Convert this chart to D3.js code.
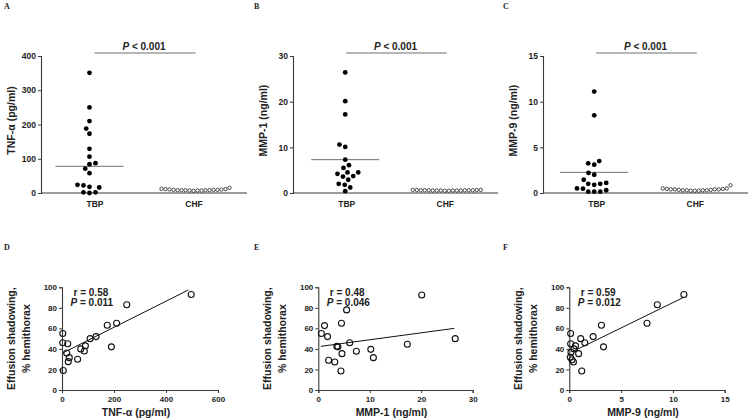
<!DOCTYPE html>
<html><head><meta charset="utf-8">
<script src="https://cdnjs.cloudflare.com/ajax/libs/d3/7.8.5/d3.min.js"></script>
<style>
html,body{margin:0;padding:0;background:#fff;}
svg{display:block;font-family:Arial,"Liberation Sans",sans-serif;}
</style></head>
<body>
<svg id="chart" width="750" height="418"></svg>
<script>
// ---------- DATA ----------
const groups = ["TBP", "CHF"];

const tnfTBP = [351,250,210,188,173,129,106,87,84,71,58,24,22,18,16,2,0,2];
const tnfCHF = [7,6,5,4,4,3,3,2,2,1,2,3,3,3,4,5,6,10];
const tnfLine = 78;

const mmp1TBP = [26.4,20.1,17.2,10.6,10.1,7.3,6.1,5.5,4.5,4.2,4.5,3.6,3.7,2.9,1.8,2.0,1.2,0.4];
const mmp1CHF = [0.3,0.25,0.2,0.2,0.2,0.15,0.15,0.15,0.1,0.1,0.15,0.15,0.15,0.2,0.2,0.2,0.25,0.3];
const mmp1Line = 7.3;

const mmp9TBP = [11.1,8.5,3.25,3.1,3.5,2.0,2.2,1.1,1.0,0.9,1.0,1.45,0.47,0.15,0.15,0.15,0.3,0.5];
const mmp9CHF = [0.3,0.25,0.2,0.2,0.15,0.1,0.1,0.05,0.05,0.05,0.1,0.1,0.15,0.2,0.2,0.25,0.3,0.65];
const mmp9Line = 2.26;

const topYTicks = [[0,100,200,300,400],[0,10,20,30],[0,5,10,15]];
const topYLabels = ["TNF-\u03b1 (pg/ml)", "MMP-1 (ng/ml)", "MMP-9 (ng/ml)"];
const topPText = "< 0.001";

const effD = [93,83,65,63,42,52,50,43,40,38,30,55,46,45,36,31.5,27.6,19];
const tnfD = [497,249,210,174,190,131,108,90,72,86,60,3,3,22,18,28,24,5];
const fitD = [[5,36.3],[486,97.4]];

const effE = [92.5,78,50,65,62.7,55,52,46,44.5,42.5,42,39.6,37.7,35.4,31.5,29,27.3,18.5];
const mmp1E = [20.1,5.5,26.6,4.5,1.2,0.6,1.8,6.1,17.3,3.6,3.8,10.2,7.4,4.6,10.7,2.0,3.2,4.4];
const fitE = [[0.5,42.5],[26.4,60]];

const effF = [93,83,65,63,42,52,50,46,55,45,43,40,36.7,35.4,31.8,29.5,27.3,18.5];
const mmp9F = [11.06,8.5,7.5,3.1,3.3,2.3,1.1,1.5,0.13,0.13,0.6,0.45,0.16,0.9,0.1,0.26,0.4,1.2];
const fitF = [[0.45,38],[11.06,90.3]];

const botXTicks = [[0,200,400,600],[0,10,20,30],[0,5,10,15]];
const botYTicks = [0,20,40,60,80,100];
const botXLabels = ["TNF-\u03b1 (pg/ml)", "MMP-1 (ng/ml)", "MMP-9 (ng/ml)"];
const botYLabel = ["Effusion shadowing,", "% hemithorax"];
const rTexts = ["r = 0.58","r = 0.48","r = 0.59"];
const pTexts = ["= 0.011","= 0.046","= 0.012"];
const panelLetters = ["A","B","C","D","E","F"];

// ---------- LAYOUT ----------
const svg = d3.select("#chart");
const AX = "#3a3a3a", GR = "#6e6e6e";
const topPanels = [
  {x0:41, x1:247, tbp:tnfTBP, chf:tnfCHF, line:tnfLine, max:400, shift:-5},
  {x0:293, x1:498, tbp:mmp1TBP, chf:mmp1CHF, line:mmp1Line, max:30, shift:-1},
  {x0:543, x1:748, tbp:mmp9TBP, chf:mmp9CHF, line:mmp9Line, max:15, shift:-2}
];
const topY0 = 193, topY1 = 56;

function swarm(values, y, minDist, vk){
  const pts = values.map(v => ({v, y:y(v)})).sort((a,b)=>a.v-b.v);
  const placed = [];
  pts.forEach((p,k) => {
    let best = null;
    for (let s=0; s<=400 && best===null; s++){
      const off = s*0.25;
      const signs = (k%2) ? [1,-1] : [-1,1];
      for (const sg of signs){
        const x = off*sg;
        if (placed.every(q => Math.hypot(q.dx-x, (q.y-p.y)*vk) >= minDist)){ best = x; break; }
      }
    }
    p.dx = best; placed.push(p);
  });
  return placed;
}

topPanels.forEach((P,i) => {
  const g = svg.append("g");
  const y = d3.scaleLinear().domain([0,P.max]).range([topY0, topY1]);
  const x = d3.scalePoint().domain(groups).range([P.x0, P.x1]).padding(0.54);

  const ya = g.append("g").attr("transform",`translate(${P.x0},0)`)
    .call(d3.axisLeft(y).tickValues(topYTicks[i]).tickSize(3).tickPadding(2).tickFormat(d3.format("d")));
  ya.select(".domain").attr("stroke",AX).attr("stroke-width",1.1);
  ya.selectAll(".tick line").attr("stroke",AX);
  ya.selectAll("text").attr("font-size",8.5).attr("font-weight","bold").attr("fill","#222");

  const xa = g.append("g").attr("transform",`translate(0,${topY0})`)
    .call(d3.axisBottom(x).tickSize(0).tickPadding(8));
  xa.select(".domain").attr("stroke",AX).attr("stroke-width",1.1).attr("d",`M${P.x0},0H${P.x1}`);
  xa.selectAll("text").attr("font-size",8.5).attr("font-weight","bold").attr("fill","#222");

  g.append("text").attr("transform",`translate(${P.x0-26},${(topY0+topY1)/2-4}) rotate(-90)`)
    .attr("text-anchor","middle").attr("font-size",10.5).attr("font-weight","bold").attr("fill","#222")
    .text(topYLabels[i]);

  const cx = x("TBP") + P.shift;
  g.append("line").attr("x1",cx-34).attr("x2",cx+34)
    .attr("y1",y(P.line)).attr("y2",y(P.line)).attr("stroke",GR).attr("stroke-width",1);

  g.append("line").attr("x1",x("TBP")).attr("x2",x("CHF")+2)
    .attr("y1",y(P.max)-3).attr("y2",y(P.max)-3).attr("stroke",GR).attr("stroke-width",1);
  const pt = g.append("text").attr("x",(x("TBP")+x("CHF"))/2).attr("y",y(P.max)-6)
    .attr("text-anchor","middle").attr("font-size",10).attr("font-weight","bold").attr("fill","#222");
  pt.append("tspan").attr("font-style","italic").text("P");
  pt.append("tspan").text(" " + topPText);

  swarm(P.tbp, y, 6, 1).forEach(p => {
    g.append("circle").attr("cx",cx+p.dx).attr("cy",p.y).attr("r",2.4).attr("fill","#000");
  });
  swarm(P.chf, y, 3.85, 0.3).forEach(p => {
    g.append("circle").attr("cx",x("CHF")+p.dx).attr("cy",p.y-1.8).attr("r",1.7)
      .attr("fill","#fff").attr("stroke","#222").attr("stroke-width",0.8);
  });
});

// ---------- BOTTOM PANELS ----------
const botPanels = [
  {x0:62, x1:218, xs:tnfD, ys:effD, fit:fitD, max:600},
  {x0:318.3, x1:472.7, xs:mmp1E, ys:effE, fit:fitE, max:30},
  {x0:569.3, x1:724.7, xs:mmp9F, ys:effF, fit:fitF, max:15}
];
const botY0 = 390, botY1 = 287.3;

botPanels.forEach((P,i) => {
  const g = svg.append("g");
  const x = d3.scaleLinear().domain([0,P.max]).range([P.x0,P.x1]);
  const y = d3.scaleLinear().domain([0,100]).range([botY0,botY1]);

  const ya = g.append("g").attr("transform",`translate(${P.x0},0)`)
    .call(d3.axisLeft(y).tickValues(botYTicks).tickSize(3).tickPadding(2));
  ya.select(".domain").attr("stroke",AX).attr("stroke-width",1.1);
  ya.selectAll(".tick line").attr("stroke",AX);
  ya.selectAll("text").attr("font-size",8).attr("font-weight","bold").attr("fill","#222");

  const xa = g.append("g").attr("transform",`translate(0,${botY0})`)
    .call(d3.axisBottom(x).tickValues(botXTicks[i]).tickSize(3).tickPadding(3));
  xa.select(".domain").attr("stroke",AX).attr("stroke-width",1.1);
  xa.selectAll(".tick line").attr("stroke",AX);
  xa.selectAll("text").attr("font-size",8).attr("font-weight","bold").attr("fill","#222");

  g.append("text").attr("x",(P.x0+P.x1)/2-4).attr("y",botY0+25.5)
    .attr("text-anchor","middle").attr("font-size",10.5).attr("font-weight","bold").attr("fill","#222")
    .text(botXLabels[i]);

  const yl = g.append("text").attr("transform",`translate(${P.x0-47},${(botY0+botY1)/2}) rotate(-90)`)
    .attr("text-anchor","middle").attr("font-size",10.5).attr("font-weight","bold").attr("fill","#222");
  yl.append("tspan").attr("x",0).attr("dy",0).text(botYLabel[0]);
  yl.append("tspan").attr("x",0).attr("dy",15).text(botYLabel[1]);

  g.append("path").datum(P.fit)
    .attr("d", d3.line().x(d=>x(d[0])).y(d=>y(d[1])))
    .attr("stroke","#111").attr("stroke-width",1).attr("fill","none");

  P.xs.forEach((xv,k) => {
    g.append("circle").attr("cx",x(xv)).attr("cy",y(P.ys[k])).attr("r",3)
      .attr("fill","none").attr("stroke","#111").attr("stroke-width",1.1);
  });

  g.append("text").attr("x",P.x0+11.5).attr("y",botY1+8.5)
    .attr("font-size",10).attr("font-weight","bold").attr("fill","#222").text(rTexts[i]);
  const pp = g.append("text").attr("x",P.x0+8.5).attr("y",botY1+18.5)
    .attr("font-size",10).attr("font-weight","bold").attr("fill","#222");
  pp.append("tspan").attr("font-style","italic").text("P");
  pp.append("tspan").text(" " + pTexts[i]);
});

const letterPos = [[4,9],[254,9],[503,9],[4,250],[254,250],[503,250]];
panelLetters.forEach((L,i) => {
  svg.append("text").attr("x",letterPos[i][0]).attr("y",letterPos[i][1])
    .attr("font-family","'Liberation Serif','Times New Roman',serif").attr("font-weight","bold")
    .attr("font-size",8).attr("fill","#222").text(L);
});
</script>
</body></html>
